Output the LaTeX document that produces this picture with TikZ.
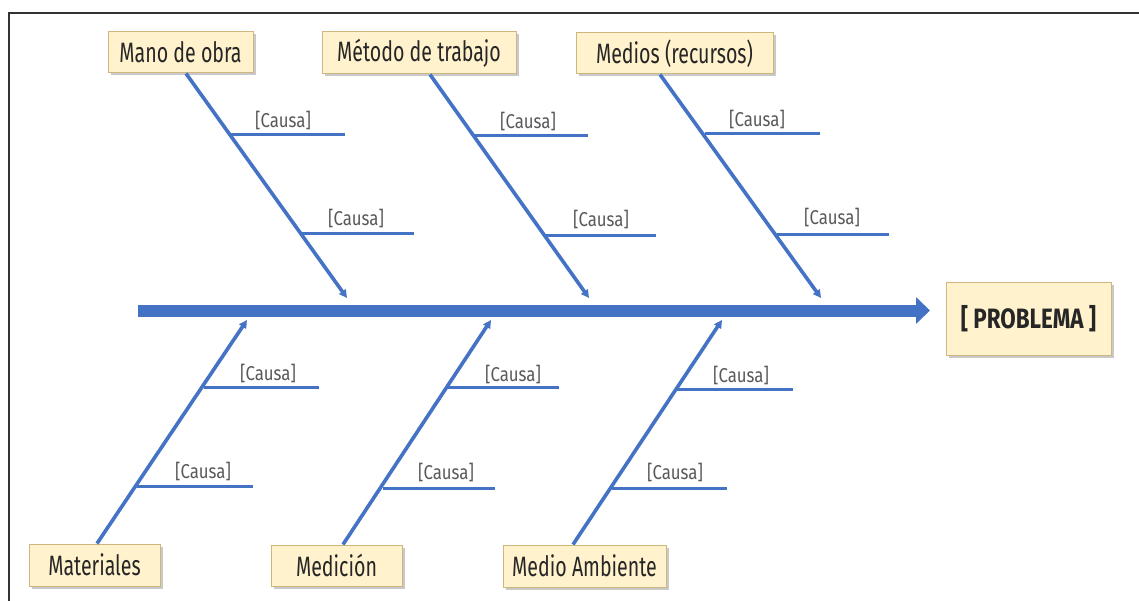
\documentclass[tikz,border=0pt]{standalone}
\usepackage{fontspec}
\setmainfont[FakeStretch=0.7]{Fira Sans}
\newfontfamily\causefont[FakeStretch=0.84]{Fira Sans}
\newfontfamily\probfont[FakeStretch=0.8]{Fira Sans}
\usetikzlibrary{arrows.meta,shadows,calc}
\definecolor{bone}{HTML}{4472C4}
\definecolor{boxfill}{HTML}{FFF2CC}
\definecolor{boxline}{HTML}{CDB77E}
\definecolor{ink}{HTML}{262626}
\definecolor{causeink}{HTML}{595959}
\tikzset{
  catbox/.style={draw=boxline, line width=1pt, fill=boxfill, text=ink,
    font=\fontsize{28}{28}\selectfont, inner sep=0pt,
    drop shadow={shadow xshift=2.5pt, shadow yshift=-2.5pt, opacity=0.35, fill=black!60}},
  probbox/.style={catbox, font=\probfont\fontsize{28}{28}\selectfont\bfseries},
  bonearrow/.style={draw=bone, line width=3.6pt, -{Triangle[length=8pt,width=8pt]}},
  branch/.style={draw=bone, line width=3pt},
  cause/.style={text=causeink, font=\causefont\fontsize{20}{20}\selectfont, inner sep=0pt},
  frameline/.style={draw=black!80, line width=2pt}
}
\begin{document}
\begin{tikzpicture}[x=1pt,y=-1pt]
\useasboundingbox (0,0) rectangle (1139,601);
\fill[white] (0,0) rectangle (1139,601);
% outer frame (top and left edges only are visible)
\draw[frameline] (8,13.5) -- (1139,13.5);
\draw[frameline] (8.5,12.5) -- (8.5,601);

% category boxes
\node[catbox, minimum width=145pt, minimum height=41pt] (mano) at (180.5,52.5) {Mano de obra};
\node[catbox, minimum width=194pt, minimum height=42pt] (metodo) at (419,53) {Método de trabajo};
\node[catbox, minimum width=197pt, minimum height=41pt] (medios) at (674.5,53.5) {Medios (recursos)};
\node[catbox, minimum width=131pt, minimum height=42pt] (materiales) at (94.5,565) {Materiales};
\node[catbox, minimum width=131pt, minimum height=41pt] (medicion) at (336.5,565.5) {Medición};
\node[catbox, minimum width=163pt, minimum height=42pt] (ambiente) at (584.5,566) {Medio Ambiente};
\node[probbox, minimum width=165pt, minimum height=72pt] (problema) at (1028.5,319) {[ PROBLEMA ]};

% spine
\coordinate (spineL) at (138,310.5);
\coordinate (spineR) at (930,310.5);
\draw[draw=bone, line width=12pt, -{Triangle[length=14pt,width=26pt]}] (spineL) -- (spineR);

% bone end points on the spine
\coordinate (t1) at (347,298);
\coordinate (t2) at (589,298);
\coordinate (t3) at (821,298);
\coordinate (b1) at (247,320);
\coordinate (b2) at (491,320);
\coordinate (b3) at (722,320);

% upper bones
\draw[bonearrow] ($(mano.south)+(5.5,0)$) coordinate (m0) -- (t1);
\draw[bonearrow] ($(metodo.south)+(11,0)$) coordinate (k0) -- (t2);
\draw[bonearrow] ($(medios.south)+(-14.5,0)$) coordinate (r0) -- (t3);
% lower bones
\draw[bonearrow] ($(materiales.north)+(2.5,0)$) coordinate (a0) -- (b1);
\draw[bonearrow] ($(medicion.north)+(6.5,0)$) coordinate (d0) -- (b2);
\draw[bonearrow] ($(ambiente.north)+(-11.5,0)$) coordinate (e0) -- (b3);

% cause branches: start on the bone, run right
\draw[branch] (230,135) -- (345,135);
\draw[branch] (301,233.5) -- (414,233.5);
\draw[branch] (474,135.5) -- (588,135.5);
\draw[branch] (544,236) -- (656,236);
\draw[branch] (705,134) -- (820,134);
\draw[branch] (777,235) -- (889,235);
\draw[branch] (204,387.5) -- (319,387.5);
\draw[branch] (137,486) -- (253,486);
\draw[branch] (446,387.5) -- (559,387.5);
\draw[branch] (383,488) -- (495,488);
\draw[branch] (677,389) -- (793,389);
\draw[branch] (612,488) -- (727,488);

% cause labels
\node[cause] (c1) at (283,121) {[Causa]};
\node[cause] (c2) at (356,219) {[Causa]};
\node[cause] (c3) at (528,122) {[Causa]};
\node[cause] (c4) at (601,220) {[Causa]};
\node[cause] (c5) at (757,120) {[Causa]};
\node[cause] (c6) at (832,218) {[Causa]};
\node[cause] (c7) at (268,373) {[Causa]};
\node[cause] (c8) at (203,471) {[Causa]};
\node[cause] (c9) at (513,374) {[Causa]};
\node[cause] (c10) at (446,472) {[Causa]};
\node[cause] (c11) at (741,375) {[Causa]};
\node[cause] (c12) at (675,472) {[Causa]};
\end{tikzpicture}
\end{document}
